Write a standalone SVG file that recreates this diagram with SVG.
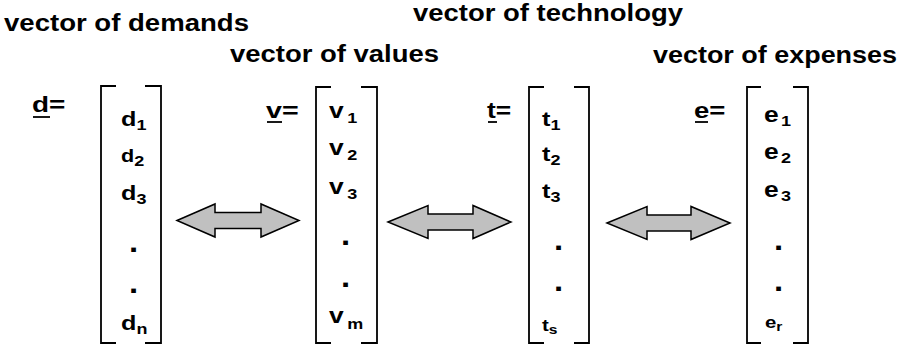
<svg xmlns="http://www.w3.org/2000/svg" width="903" height="345" viewBox="0 0 903 345">
<style>
text{font-family:"Liberation Sans",Arial,sans-serif;font-weight:bold;fill:#000}
.h{font-size:23px}
.lab{font-size:22px}
.en{font-size:21px}
.sub{font-size:15px}
.dot{font-size:30px}
.br{fill:none;stroke:#000;stroke-width:1.8}
.ar{fill:#c0c0c0;stroke:#000;stroke-width:1.5;stroke-linejoin:miter}
.ul{stroke:#000;stroke-width:1.8}
</style>
<g id="headers">
<text class="h" x="4" y="31" textLength="245" lengthAdjust="spacingAndGlyphs">vector of demands</text>
<text class="h" x="413" y="21" textLength="270" lengthAdjust="spacingAndGlyphs">vector of technology</text>
<text class="h" x="230" y="62" textLength="209" lengthAdjust="spacingAndGlyphs">vector of values</text>
<text class="h" x="653" y="63" textLength="244" lengthAdjust="spacingAndGlyphs">vector of expenses</text>
</g>
<g id="node-d">
<text class="lab" transform="translate(32,112) scale(1.27,1)">d=</text>
<line class="ul" x1="33" y1="117" x2="50" y2="117"/>
<path class="br" d="M116,86 H101 V343 H116 M145,86 H161 V343 H145"/>
<text class="en" transform="translate(121,126) scale(1.2,1)">d<tspan class="sub" dy="4">1</tspan></text>
<text class="en" style="font-size:18px" transform="translate(121,162) scale(1.2,1)">d<tspan class="sub" dy="4">2</tspan></text>
<text class="en" transform="translate(121,200) scale(1.2,1)">d<tspan class="sub" dy="4">3</tspan></text>
<text class="dot" transform="translate(129,252) scale(1.1,1)">.</text>
<text class="dot" transform="translate(129,293) scale(1.1,1)">.</text>
<text class="en" transform="translate(121,330) scale(1.2,1)">d<tspan class="sub" dy="4">n</tspan></text>
</g>
<g id="node-v">
<text class="lab" transform="translate(266,118) scale(1.3,1)">v=</text>
<line class="ul" x1="267" y1="122" x2="282" y2="122"/>
<path class="br" d="M331,87 H316 V343 H331 M361,87 H377 V343 H361"/>
<text class="en" style="font-size:22px" transform="translate(329,118) scale(1.2,1)">v<tspan class="sub" dx="3" dy="5">1</tspan></text>
<text class="en" style="font-size:22px" transform="translate(329,155) scale(1.2,1)">v<tspan class="sub" dx="3" dy="5">2</tspan></text>
<text class="en" style="font-size:22px" transform="translate(329,194) scale(1.2,1)">v<tspan class="sub" dx="3" dy="5">3</tspan></text>
<text class="dot" transform="translate(341,245) scale(1.1,1)">.</text>
<text class="dot" transform="translate(341,287) scale(1.1,1)">.</text>
<text class="en" style="font-size:22px" transform="translate(329,323) scale(1.2,1)">v<tspan class="sub" dx="3" dy="6">m</tspan></text>
</g>
<g id="node-t">
<text class="lab" transform="translate(487,118) scale(1.2,1)">t=</text>
<line class="ul" x1="488" y1="122" x2="497" y2="122"/>
<path class="br" d="M544,87 H529 V343 H544 M574,87 H589 V343 H574"/>
<text class="en" transform="translate(542,126) scale(1.2,1)">t<tspan class="sub" dy="4">1</tspan></text>
<text class="en" transform="translate(542,161) scale(1.2,1)">t<tspan class="sub" dy="4">2</tspan></text>
<text class="en" transform="translate(542,198) scale(1.2,1)">t<tspan class="sub" dy="4">3</tspan></text>
<text class="dot" transform="translate(554,250) scale(1.1,1)">.</text>
<text class="dot" transform="translate(554,291) scale(1.1,1)">.</text>
<text class="en" style="font-size:17px" transform="translate(542,331) scale(1.2,1)">t<tspan class="sub" style="font-size:13px" dy="3">s</tspan></text>
</g>
<g id="node-e">
<text class="lab" transform="translate(694,118) scale(1.25,1)">e=</text>
<line class="ul" x1="695" y1="122" x2="708" y2="122"/>
<path class="br" d="M761,87 H747 V343 H761 M793,87 H808 V343 H793"/>
<text class="en" style="font-size:22px" transform="translate(764,122) scale(1.2,1)">e<tspan class="sub" dx="2" dy="4">1</tspan></text>
<text class="en" style="font-size:22px" transform="translate(764,159) scale(1.2,1)">e<tspan class="sub" dx="2" dy="4">2</tspan></text>
<text class="en" style="font-size:22px" transform="translate(764,197) scale(1.2,1)">e<tspan class="sub" dx="2" dy="4">3</tspan></text>
<text class="dot" transform="translate(774,250) scale(1.1,1)">.</text>
<text class="dot" transform="translate(774,291) scale(1.1,1)">.</text>
<text class="en" style="font-size:17px" transform="translate(765,328) scale(1.2,1)">e<tspan class="sub" style="font-size:13px" dy="3">r</tspan></text>
</g>
<g id="connectors">
<polygon class="ar" points="177,220.5 215,204 215,212.5 261,212.5 261,204 299,220.5 261,237 261,228.5 215,228.5 215,237"/>
<polygon class="ar" points="388,222 428,205.5 428,214 473,214 473,205.5 511,222 473,238.5 473,230 428,230 428,238.5"/>
<polygon class="ar" points="607,223 647,206.5 647,215 691,215 691,206.5 730,223 691,239.5 691,231 647,231 647,239.5"/>
</g>
</svg>
